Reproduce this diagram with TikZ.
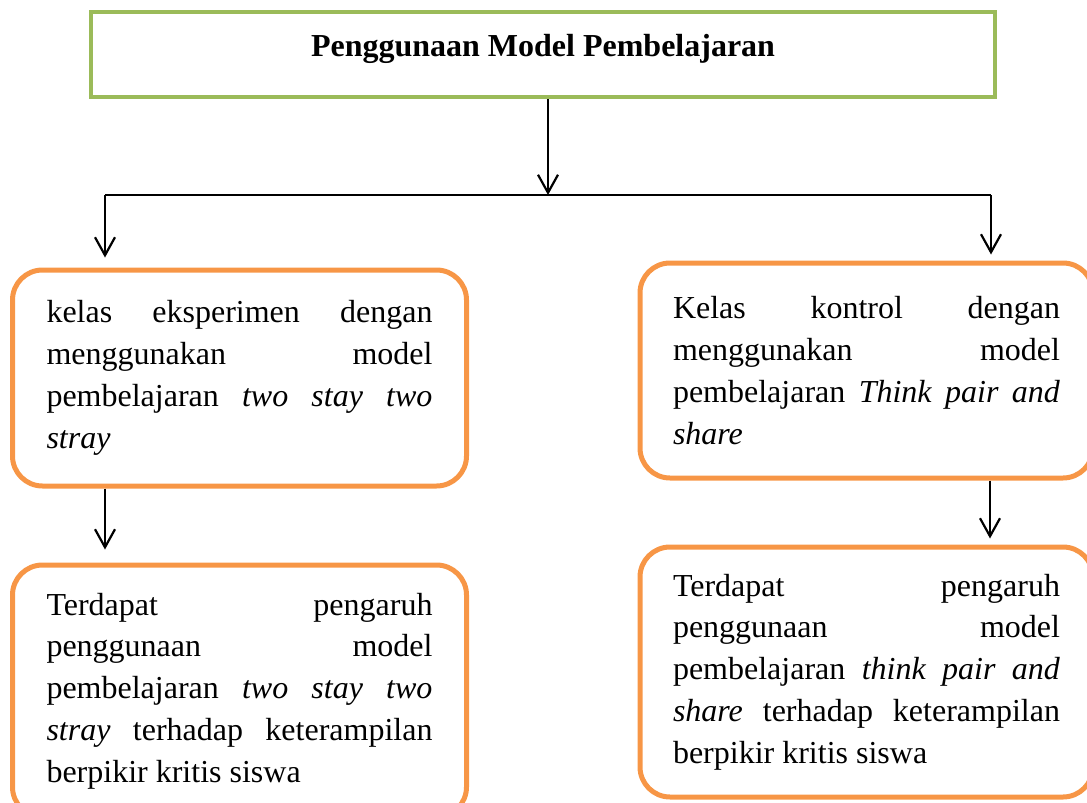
\documentclass[tikz,border=0pt]{standalone}
\usepackage{fontspec}
\setmainfont{Liberation Serif}[ItalicFont={Liberation Serif Italic},BoldFont={Liberation Serif Bold}]
\usetikzlibrary{arrows.meta}
\definecolor{hijau}{HTML}{9BBB59}
\definecolor{oranye}{HTML}{F79646}
\begin{document}
\begin{tikzpicture}[x=1pt,y=-1pt,
	every node/.style={font=\fontsize{32}{41.8}\selectfont},
	kotakjudul/.style={draw=hijau,line width=4.5pt,minimum width=904pt,minimum height=85pt},
	kotak/.style={draw=oranye,line width=5pt,rounded corners=30pt,align=justify,inner ysep=0pt},
	panah/.style={line width=2.2pt,-{Straight Barb[length=18pt,width=20pt]}},
	garis/.style={line width=2.2pt}]
		\useasboundingbox (0,0) rectangle (1087,803);
		\clip (0,0) rectangle (1087,803);
		% judul
		\node[kotakjudul] (model) at (543,54.5) {};
		\node[font=\fontsize{32}{41.8}\selectfont\bfseries] (judul) at (543,49) {Penggunaan Model Pembelajaran};
		% kotak kiri
		\node[kotak,text width=386pt,inner xsep=34pt,minimum height=216pt] (eksp) at (239.5,378)
		{kelas eksperimen dengan\linebreak menggunakan model\linebreak pembelajaran \emph{two stay two}\linebreak \emph{stray}};
		\node[kotak,text width=386pt,inner xsep=34pt,minimum height=252pt] (hasileksp) at (239.5,691)
		{Terdapat pengaruh\linebreak penggunaan model\linebreak pembelajaran \emph{two stay two}\linebreak \emph{stray} terhadap keterampilan\linebreak berpikir kritis siswa};
		% kotak kanan
		\node[kotak,text width=387pt,inner xsep=33pt,minimum height=215pt] (kontrol) at (866.5,370.5)
		{Kelas kontrol dengan\linebreak menggunakan model\linebreak pembelajaran \emph{Think pair and}\linebreak \emph{share}};
		\node[kotak,text width=387pt,inner xsep=33pt,minimum height=250pt] (hasilkontrol) at (866.5,672)
		{Terdapat pengaruh\linebreak penggunaan model\linebreak pembelajaran \emph{think pair and}\linebreak \emph{share} terhadap keterampilan\linebreak berpikir kritis siswa};
		% cabang
		\coordinate (cabang) at (548,195);
		\coordinate (ki) at (105,195);
		\coordinate (ka) at (991,195);
		\draw[panah] (model.south -| cabang) -- (cabang);
		\draw[garis] (ki) -- (ka);
		\draw[panah,shorten >=10pt] (ki) -- (ki |- eksp.north);
		\draw[panah,shorten >=6pt] (ka) -- (ka |- kontrol.north);
		% panah bawah
		\draw[panah,shorten >=13pt] (eksp.south -| ki) -- (ki |- hasileksp.north);
		\draw[panah,shorten >=6pt] (kontrol.south -| 990,0) -- (990,0 |- hasilkontrol.north);
\end{tikzpicture}
\end{document}
